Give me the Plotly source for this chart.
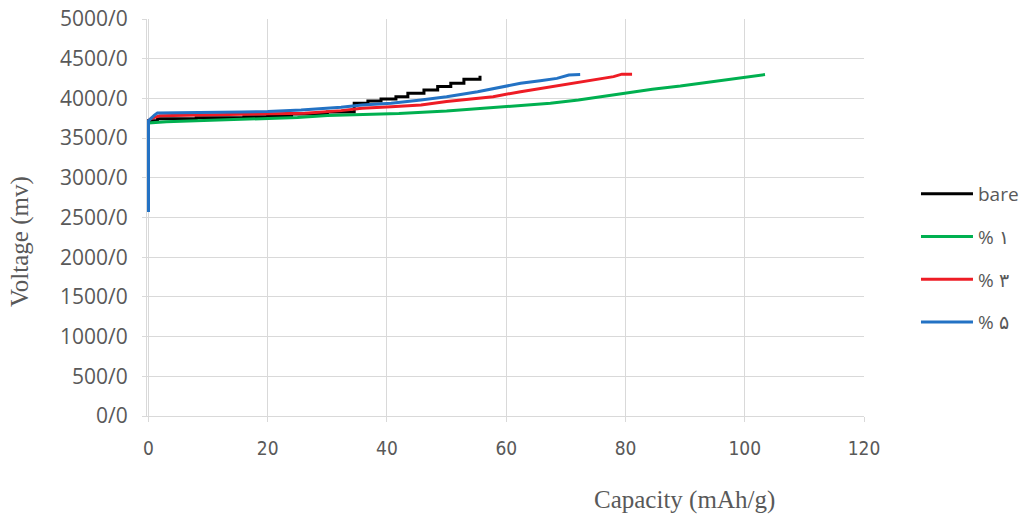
import plotly.graph_objects as go

# Charge curves: capacity (mAh/g) vs voltage (mV)
bare_cap = [0, 0, 1.5, 8, 16, 20, 24, 30, 34.5, 36.8, 39.0, 41.5, 43.5, 46.2, 48.5, 50.7, 52.9, 55.6]
bare_volt = [2570, 3720, 3745, 3755, 3770, 3785, 3805, 3830, 3938, 3967, 3992, 4022, 4064, 4106,
             4150, 4190, 4240, 4285]

p1_cap = [0, 0, 3, 10, 18, 25, 30, 36, 42, 50, 55, 59, 62.4, 67.4, 72.1, 75.8, 79.7, 84.5,
          89.2, 93.7, 98.1, 101.4, 103.4]
p1_volt = [2570, 3690, 3705, 3720, 3740, 3760, 3785, 3795, 3810, 3840, 3870, 3890, 3915, 3940,
           3980, 4020, 4070, 4115, 4155, 4200, 4240, 4275, 4300]

p3_cap = [0, 0, 0.5, 1.9, 15.6, 22, 26.2, 32.3, 35.8, 40.7, 45.7, 50, 53.9, 57.8, 62.4, 65.7,
          69.1, 71.9, 75.2, 78, 79.4, 81.1]
p3_volt = [2570, 3720, 3750, 3782, 3800, 3805, 3812, 3846, 3875, 3895, 3917, 3960, 3988, 4022,
           4085, 4127, 4169, 4202, 4240, 4274, 4305, 4305]

p5_cap = [0, 0, 1.0, 1.5, 15.6, 20, 25.6, 32.3, 35.8, 40.7, 45.7, 50, 55.2, 59, 62.4, 65.7,
          68.5, 70.5, 72.4]
p5_volt = [2570, 3720, 3790, 3815, 3830, 3835, 3854, 3888, 3917, 3938, 3980, 4022, 4085, 4140,
           4190, 4223, 4252, 4295, 4300]

series_names = ["bare", "% ۱", "% ۳", "% ۵"]
series_colors = ["#000000", "#00B050", "#EE1C25", "#2372C4"]
series_shapes = ["hv", "linear", "linear", "linear"]

y_ticks = list(range(0, 5001, 500))
y_ticktext = [f"{v}/0" for v in y_ticks]

grey = "#595959"
grid = "#D9D9D9"

fig = go.Figure()
for i, (xs, ys) in enumerate([(bare_cap, bare_volt), (p1_cap, p1_volt),
                              (p3_cap, p3_volt), (p5_cap, p5_volt)]):
    fig.add_trace(go.Scatter(
        x=xs, y=ys, mode="lines", name=series_names[i], legendgroup=str(i),
        line=dict(color=series_colors[i], width=3, shape=series_shapes[i]),
    ))

fig.update_xaxes(
    range=[-0.25, 120], tickvals=[0, 20, 40, 60, 80, 100, 120],
    showgrid=True, gridcolor=grid, gridwidth=1,
    showline=True, linecolor=grid, linewidth=1,
    ticks="outside", ticklen=5, tickcolor=grid,
    tickfont=dict(family="DejaVu Sans Condensed, Liberation Sans Narrow, Liberation Sans",
                  size=19, color=grey),
    ticklabelstandoff=10, zeroline=False, layer="below traces",
    ticklabeloverflow="allow",
)
fig.update_yaxes(
    range=[0, 5000], tickvals=y_ticks, ticktext=y_ticktext,
    showgrid=True, gridcolor=grid, gridwidth=1,
    showline=True, linecolor=grid, linewidth=1,
    ticks="outside", ticklen=4, tickcolor=grid,
    tickfont=dict(family="Open Sans", size=21, color=grey),
    ticklabelstandoff=10, zeroline=False, layer="below traces",
    ticklabeloverflow="allow",
)

# axis titles sit off-centre in the reference, so they are placed as annotations
fig.add_annotation(text="Capacity (mAh/g)", xref="paper", yref="paper",
                   x=(684 - 147) / 717, y=-(500 - 416) / 397, showarrow=False,
                   xanchor="center", yanchor="middle",
                   font=dict(family="Liberation Serif", size=25, color=grey))
fig.add_annotation(text="Voltage (mv)", xref="paper", yref="paper", textangle=-90,
                   x=-(147 - 20) / 717, y=(416 - 242) / 397, showarrow=False,
                   xanchor="center", yanchor="middle",
                   font=dict(family="Liberation Serif", size=25, color=grey))

fig.update_layout(
    width=1021, height=515,
    margin=dict(l=147, r=157, t=19, b=99, autoexpand=False),
    plot_bgcolor="white", paper_bgcolor="white",
    legend=dict(x=1.0725, y=0.607, xanchor="left", yanchor="top",
                font=dict(family="Open Sans", size=19, color=grey),
                tracegroupgap=15, itemwidth=52, traceorder="grouped",
                bgcolor="rgba(0,0,0,0)"),
)

# drop the default body margin so the figure fills the window exactly
fig.write_html("out.html", config={"displayModeBar": False},
               post_script="document.body.style.margin = '0';")
